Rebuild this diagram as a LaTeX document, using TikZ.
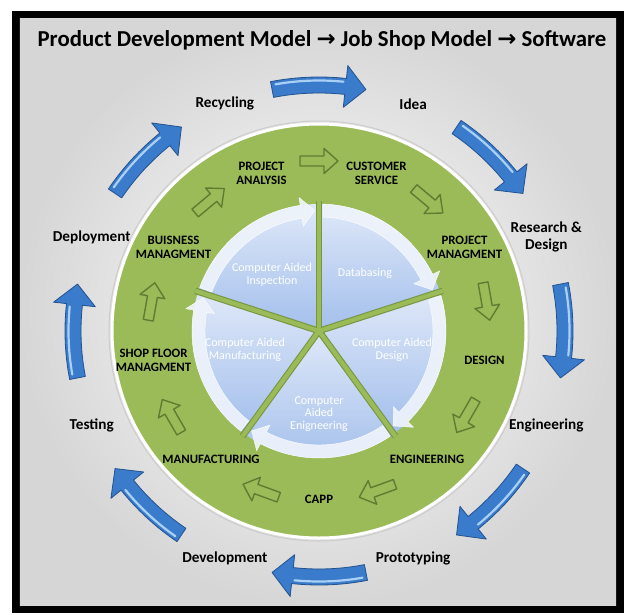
\documentclass[tikz,border=0pt]{standalone}
\usepackage{fontspec}
\setmainfont{Carlito}
\newfontfamily\arrowfont{DejaVu Sans}
\usepackage{tikz}
\usetikzlibrary{positioning}
\usepackage{xcolor}

\definecolor{ringgreen}{HTML}{9BBB59}
\definecolor{ringedge}{HTML}{5E7D32}
\definecolor{cycleblue}{HTML}{3B7BCB}
\definecolor{cycledark}{HTML}{22528F}
\definecolor{cyclelight}{HTML}{A9D1F5}
\definecolor{pietop}{HTML}{DFE8F8}
\definecolor{piebottom}{HTML}{A3BFEC}
\definecolor{bandwhite}{HTML}{EEF3FB}

\tikzset{
  titletext/.style={font=\fontsize{22.8}{25}\selectfont\bfseries, inner sep=1pt},
  outerlabel/.style={font=\fontsize{15.2}{17}\selectfont\bfseries, align=center, inner sep=1pt},
  ringlabel/.style={font=\fontsize{12.8}{14}\selectfont\bfseries, align=center, inner sep=1pt},
  pielabel/.style={font=\fontsize{12}{12.5}\selectfont, text=white, align=center, inner sep=1pt},
  greenarrow/.style={draw=ringedge, fill=ringgreen, line width=1.4pt, line join=round},
  bluearrow/.style={fill=cycleblue, draw=cycledark, line width=0.8pt, line join=round},
  bandarrow/.style={fill=bandwhite, fill opacity=0.93, draw=white, line width=0.4pt, line join=round},
}

% big blue arrow of the outer cycle, centred at angle #1
\newcommand{\cyclearrow}[1]{%
  \pgfmathsetmacro{\arrA}{#1+11}\pgfmathsetmacro{\arrB}{#1-6.2}%
  \pgfmathsetmacro{\arrC}{#1-11}\pgfmathsetmacro{\arrD}{#1+10}\pgfmathsetmacro{\arrE}{#1-5.6}%
  \filldraw[bluearrow] (\arrA:254) arc[start angle=\arrA, end angle=\arrB, radius=254]
    -- (\arrB:267) -- (\arrC:246) -- (\arrB:225) -- (\arrB:238)
    arc[start angle=\arrB, end angle=\arrA, radius=238] -- cycle;
  \draw[cyclelight, line width=2.2pt, line cap=round] (\arrD:250.5)
    arc[start angle=\arrD, end angle=\arrE, radius=250.5];}

% hollow green arrow in the ring, at angle #1
\newcommand{\ringarrow}[1]{%
  \pgfmathsetmacro{\arrR}{#1-90}%
  \draw[greenarrow, shift={(#1:170)}, rotate=\arrR] (-19,-5) -- (5,-5) -- (5,-12.5)
    -- (19,0) -- (5,12.5) -- (5,5) -- (-19,5) -- cycle;}

% white band arrow of a pie segment, from angle #1 to #2
\newcommand{\bandarrow}[2]{%
  \pgfmathsetmacro{\arrA}{#1-2}\pgfmathsetmacro{\arrC}{#2+2}\pgfmathsetmacro{\arrB}{#2+8.5}%
  \filldraw[bandarrow] (\arrA:127) arc[start angle=\arrA, end angle=\arrB, radius=127]
    -- (\arrB:135) -- (\arrC:120.5) -- (\arrB:106) -- (\arrB:114)
    arc[start angle=\arrB, end angle=\arrA, radius=114] -- cycle;}

\begin{document}
\begin{tikzpicture}[x=1pt, y=1pt]
  \useasboundingbox (-319,-283) rectangle (309,331);
  % frame and background
  \fill[black] (-307,-282) rectangle (305,320);
  \shade[inner color=white, outer color=black!16] (-299,-274) rectangle (297,312);

  \node[titletext] (title) at (3,291) {Product Development Model {\arrowfont →} Job Shop Model {\arrowfont →} Software};

  % outer cycle
  \foreach \ang in {90,45,0,-45,-90,-135,180,135}
    \cyclearrow{\ang};
  \foreach \ang/\txt [count=\i] in {67.5/Idea, 22.5/{Research \&\\Design}, -22.5/Engineering,
      -67.5/Prototyping, -112.5/Development, -157.5/Testing, 157.5/Deployment, 112.5/Recycling}
    \node[outerlabel] (stage\i) at (\ang:246) {\txt};

  % green ring
  \draw[black!20, line width=1pt] (0,0) circle[radius=210];
  \filldraw[fill=ringgreen, draw=white, line width=3pt] (0,0) circle[radius=207];
  \foreach \ang in {90,50,10,-30,-70,-110,-150,170,130}
    \ringarrow{\ang};
  \foreach \ang/\txt [count=\i] in {110/{PROJECT\\ANALYSIS}, 70/{CUSTOMER\\SERVICE},
      30/{PROJECT\\MANAGMENT}, -10/DESIGN, -50/ENGINEERING, -90/CAPP, -130/MANUFACTURING,
      -170/{SHOP FLOOR\\MANAGMENT}, 150/{BUISNESS\\MANAGMENT}}
    \node[ringlabel] (phase\i) at (\ang:168) {\txt};

  % inner pie
  \foreach \a in {90,18,-54,-126,-198}
    \shade[top color=pietop, bottom color=piebottom] (0,0) -- (\a:127)
      arc[start angle=\a, end angle=\a+72, radius=127] -- cycle;
  \bandarrow{162}{90}
  \bandarrow{90}{18}
  \bandarrow{18}{-54}
  \bandarrow{-54}{-126}
  \bandarrow{-126}{-198}
  \foreach \a in {90,18,-54,-126,162}
    \draw[ringedge!60!ringgreen, line width=6.5pt] (0,0) -- (\a:130);
  \foreach \a in {90,18,-54,-126,162}
    \draw[ringgreen, line width=4.3pt] (0,0) -- (\a:130);

  \node[pielabel] (inspect) at (-47,56) {Computer Aided\\Inspection};
  \node[pielabel] (database) at (46,58) {Databasing};
  \node[pielabel] (design) at (73,-19) {Computer Aided\\Design};
  \node[pielabel] (engineer) at (0,-83) {Computer\\Aided\\Enigneering};
  \node[pielabel] (manufact) at (-74,-19) {Computer Aided\\Manufacturing};
\end{tikzpicture}
\end{document}
